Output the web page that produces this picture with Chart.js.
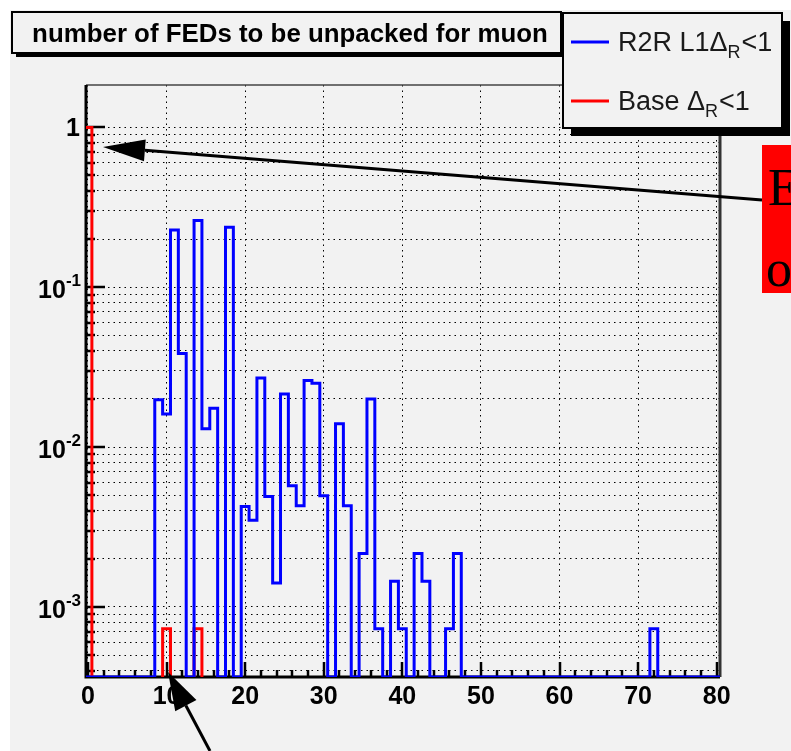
<!DOCTYPE html>
<html>
<head>
<meta charset="utf-8">
<script src="https://cdn.jsdelivr.net/npm/chart.js@4.4.1/dist/chart.umd.min.js"></script>
<style>
  html, body { margin: 0; padding: 0; background: #fff; }
  #wrap { width: 791px; height: 751px; }
</style>
</head>
<body>
<div id="wrap"><canvas id="myChart" width="791" height="751"></canvas></div>
<script>
// histogram bins are 1 wide, centred on the integer bin number
const blueBins = [9, 10, 11, 12, 14, 15, 16, 18, 20, 21, 22, 23, 24, 25, 26, 27, 28, 29, 30,
  32, 33, 35, 36, 37, 39, 40, 42, 43, 46, 47, 72];
const blueValues = [0.0198, 0.0161, 0.228, 0.0385, 0.261, 0.0130, 0.0175, 0.237, 0.00425, 0.00348,
  0.0270, 0.00491, 0.00141, 0.0215, 0.00573, 0.00430, 0.0261, 0.0251, 0.00496,
  0.0140, 0.00430, 0.00216, 0.0200, 0.00073, 0.00145, 0.00073, 0.00216, 0.00145, 0.00073, 0.00216, 0.00073];
const redBins = [0, 10, 14];
const redValues = [0.9985, 0.00073, 0.00073];

const nBins = 81; // bins 0 .. 80
const xMin = -0.25, xMax = 80.42;
const yMin = 3.645e-4, yMax = 1.84;

const xMajorTicks = [0, 10, 20, 30, 40, 50, 60, 70, 80];
const xMinorStep = 2;
const yDecades = [1e-4, 1e-3, 1e-2, 1e-1, 1];
const yLabelTicks = [1, 0.1, 0.01, 0.001];
const yLabelExps = ['', '-1', '-2', '-3'];

const titleText = 'number of FEDs to be unpacked for muon';
const seriesNames = ['R2R L1Δ', 'Base Δ'];
const seriesColors = ['#0000ff', '#ff0000'];

const FONT = '"Liberation Sans", Arial, Helvetica, sans-serif';
const PAD = '#f2f2f2';

// empty bins sit on the bottom of the log axis (floor), like ROOT draws them
function stepPoints(bins, values, floor) {
  const full = new Array(nBins).fill(0);
  bins.forEach((b, i) => { full[b] = values[i]; });
  const pts = full.map((v, i) => ({ x: i - 0.5, y: v > 0 ? v : floor }));
  pts.push({ x: nBins - 0.5, y: full[nBins - 1] > 0 ? full[nBins - 1] : floor });
  return pts;
}

function shadowBox(c, x, y, w, h, off) {
  c.fillStyle = '#000';
  c.fillRect(x + off, y + off, w, h);
  c.fillStyle = PAD;
  c.fillRect(x, y, w, h);
  c.lineWidth = 2;
  c.strokeStyle = '#000';
  c.strokeRect(x, y, w, h);
}

function arrow(c, x1, y1, x2, y2, headLen, headHalf) {
  const ang = Math.atan2(y2 - y1, x2 - x1);
  const bx = x2 - headLen * Math.cos(ang), by = y2 - headLen * Math.sin(ang);
  c.strokeStyle = '#000';
  c.fillStyle = '#000';
  c.lineWidth = 3;
  c.beginPath();
  c.moveTo(x1, y1);
  c.lineTo(bx, by);
  c.stroke();
  c.beginPath();
  c.moveTo(x2, y2);
  c.lineTo(bx + headHalf * Math.sin(ang), by - headHalf * Math.cos(ang));
  c.lineTo(bx - headHalf * Math.sin(ang), by + headHalf * Math.cos(ang));
  c.closePath();
  c.fill();
}

function subText(c, x, y, main, sub, tail) {
  c.textAlign = 'left';
  c.textBaseline = 'alphabetic';
  c.font = '27px ' + FONT;
  c.fillText(main, x, y);
  x += c.measureText(main).width;
  c.font = '18px ' + FONT;
  c.fillText(sub, x, y + 7);
  x += c.measureText(sub).width + 1;
  c.font = '27px ' + FONT;
  c.fillText(tail, x, y);
}

const rootPad = {
  id: 'rootPad',
  beforeDraw(chart) {
    const c = chart.ctx;
    c.save();
    c.fillStyle = '#fff';
    c.fillRect(0, 0, chart.width, chart.height);
    c.fillStyle = PAD;
    c.fillRect(10, 10, chart.width - 10, chart.height - 10);

    shadowBox(c, 12, 12, 549, 41, 4);
    c.fillStyle = '#000';
    c.font = 'bold 22px ' + FONT;
    const size = 22 * 516 / c.measureText(titleText).width;
    c.font = 'bold ' + size.toFixed(2) + 'px ' + FONT;
    c.textAlign = 'center';
    c.textBaseline = 'alphabetic';
    c.fillText(titleText, 290, 42);
    c.restore();
  },
  beforeDatasetsDraw(chart) {
    const c = chart.ctx;
    const a = chart.chartArea;
    const xs = chart.scales.x, ys = chart.scales.y;
    c.save();
    // frame
    c.strokeStyle = '#444';
    c.lineWidth = 1.5;
    c.beginPath();
    c.moveTo(a.left, a.top);
    c.lineTo(a.right, a.top);
    c.stroke();
    c.strokeStyle = '#333';
    c.lineWidth = 3;
    c.beginPath();
    c.moveTo(a.right, a.top);
    c.lineTo(a.right, a.bottom);
    c.stroke();
    c.strokeStyle = '#000';
    c.beginPath();
    c.moveTo(a.left, a.top);
    c.lineTo(a.left, a.bottom);
    c.lineTo(a.right, a.bottom);
    c.stroke();

    // ticks on the inside of the frame
    c.lineWidth = 2.5;
    c.beginPath();
    ys.ticks.forEach(t => {
      const py = Math.round(ys.getPixelForValue(t.value));
      c.moveTo(a.left, py);
      c.lineTo(a.left + (t.major ? 19 : 9), py);
    });
    for (let v = 0; v <= 80; v += xMinorStep) {
      const px = Math.round(xs.getPixelForValue(v));
      c.moveTo(px, a.bottom);
      c.lineTo(px, a.bottom - (v % 10 === 0 ? 15 : 7));
    }
    c.stroke();

    // tick labels
    c.fillStyle = '#000';
    c.font = 'bold 25px ' + FONT;
    c.textAlign = 'center';
    c.textBaseline = 'middle';
    xMajorTicks.forEach(v => {
      c.fillText(String(v), xs.getPixelForValue(v), 697);
    });
    c.textAlign = 'right';
    yLabelTicks.forEach((v, i) => {
      const py = ys.getPixelForValue(v);
      const exp = yLabelExps[i];
      if (!exp) {
        c.font = 'bold 25px ' + FONT;
        c.fillText('1', 80, py + 2);
      } else {
        c.font = 'bold 17px ' + FONT;
        const w = c.measureText(exp).width;
        c.fillText(exp, 81, py - 6);
        c.font = 'bold 25px ' + FONT;
        c.fillText('10', 81 - w, py + 4);
      }
    });
    c.restore();
  },
  afterDraw(chart) {
    const c = chart.ctx;
    c.save();
    // legend
    shadowBox(c, 563, 13, 219, 115, 8);
    seriesNames.forEach((name, i) => {
      const ly = i === 0 ? 42 : 101;
      c.strokeStyle = seriesColors[i];
      c.lineWidth = 3;
      c.beginPath();
      c.moveTo(571, ly);
      c.lineTo(609, ly);
      c.stroke();
      c.fillStyle = '#1a1a1a';
      subText(c, 618, ly + 9, name, 'R', '<1');
    });

    // annotation arrows and the clipped red note box
    arrow(c, 762, 200, 103, 147, 42, 11);
    arrow(c, 210, 751, 168, 672, 38, 12);
    c.fillStyle = '#ff0000';
    c.fillRect(762, 145, 40, 148);
    c.fillStyle = '#000';
    c.font = '52px "Liberation Serif", "DejaVu Serif", serif';
    c.textAlign = 'left';
    c.textBaseline = 'alphabetic';
    c.fillText('E', 768, 205);
    c.fillText('o', 766, 286);
    c.restore();
  }
};

const ctx = document.getElementById('myChart').getContext('2d');

new Chart(ctx, {
  type: 'line',
  data: {
    datasets: [
      {
        label: seriesNames[0],
        data: stepPoints(blueBins, blueValues, yMin),
        borderColor: seriesColors[0],
        borderWidth: 3,
        stepped: 'before',
        pointRadius: 0,
        fill: false,
        order: 0
      },
      {
        label: seriesNames[1],
        data: stepPoints(redBins, redValues, yMin * 0.97),
        borderColor: seriesColors[1],
        borderWidth: 3,
        stepped: 'before',
        pointRadius: 0,
        fill: false,
        order: 1
      }
    ]
  },
  options: {
    responsive: false,
    animation: false,
    devicePixelRatio: 1,
    layout: { padding: { left: 86, top: 85, right: 71, bottom: 74 } },
    plugins: {
      legend: { display: false },
      title: { display: false },
      tooltip: { enabled: false }
    },
    scales: {
      x: {
        type: 'linear',
        min: xMin,
        max: xMax,
        afterBuildTicks: s => { s.ticks = xMajorTicks.map(v => ({ value: v })); },
        ticks: { display: false },
        grid: { color: '#000', lineWidth: 1, drawTicks: false },
        border: { display: false, dash: [1.5, 4] }
      },
      y: {
        type: 'logarithmic',
        min: yMin,
        max: yMax,
        afterBuildTicks: s => {
          const t = [];
          yDecades.forEach(d => {
            for (let m = 1; m <= 9; m++) {
              const v = m * d;
              if (v >= yMin && v <= yMax) t.push({ value: v, major: m === 1 });
            }
          });
          s.ticks = t;
        },
        ticks: { display: false },
        grid: { color: '#000', lineWidth: 1, drawTicks: false },
        border: { display: false, dash: [1.5, 4] }
      }
    }
  },
  plugins: [rootPad]
});
</script>
</body>
</html>
